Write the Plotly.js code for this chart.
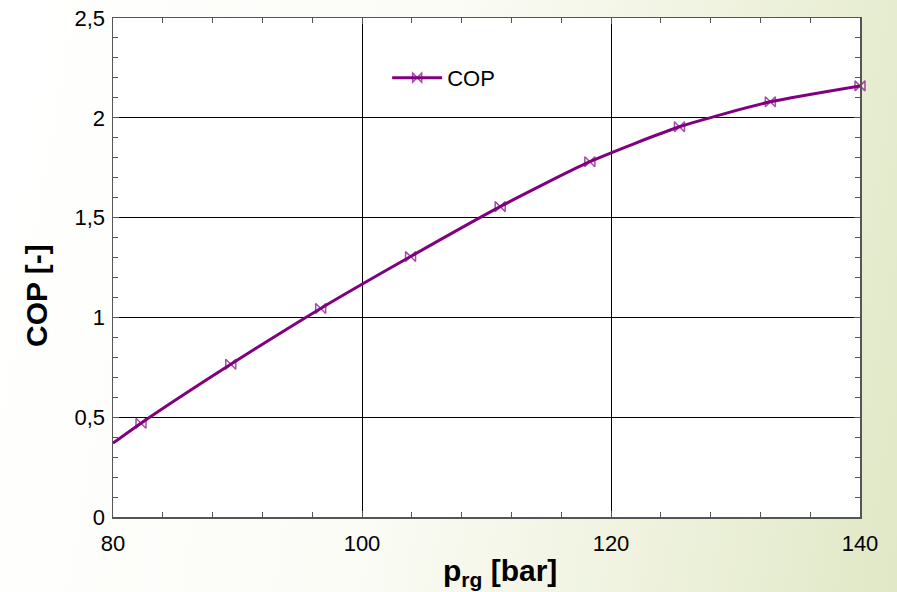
<!DOCTYPE html>
<html><head><meta charset="utf-8">
<script src="https://cdn.plot.ly/plotly-3.0.1.min.js"></script>
<style>
html,body{margin:0;padding:0;}
body{width:897px;height:592px;background:linear-gradient(100deg,#ffffff 0%,#fbfcf6 45%,#eef2dd 75%,#e0e8c6 100%);}
#chart{width:897px;height:592px;}
</style></head>
<body><div id="chart"></div>
<script>
const curveX = [80, 82.25, 89.46, 96.68, 103.9, 111.1, 118.3, 125.5, 132.8, 140];
const curveY = [0.37, 0.47, 0.765, 1.045, 1.305, 1.555, 1.78, 1.955, 2.08, 2.16];
const markerSizes = [0, 10, 10, 10, 10, 10, 10, 10, 10, 10];
const seriesName = 'COP';
const xTicks = [80, 100, 120, 140];
const yTicks = [0, 0.5, 1, 1.5, 2, 2.5];
const yTickText = ['0', '0,5', '1', '1,5', '2', '2,5'];
const xTitle = '<b>p<sub>rg</sub> [bar]</b>';
const yTitle = '<b>COP [-]</b>';

const purple = '#800080';
const font = 'Liberation Sans, Arial, sans-serif';
const data = [{
  x: curveX, y: curveY, name: seriesName, type: 'scatter', mode: 'lines+markers',
  line: {color: purple, width: 3, shape: 'spline', smoothing: 0.6},
  marker: {symbol: 'bowtie-open', size: markerSizes, color: purple, line: {color: purple, width: 1.5}},
  cliponaxis: false
}];
const axisCommon = {
  showline: true, linecolor: '#555', linewidth: 1.5, mirror: 'ticks',
  ticks: 'inside', ticklen: 6, tickcolor: '#555',
  showgrid: true, gridcolor: '#000', gridwidth: 1, zeroline: false,
  tickfont: {family: font, size: 22, color: '#000'}
};
const layout = {
  width: 897, height: 592,
  paper_bgcolor: 'rgba(0,0,0,0)', plot_bgcolor: '#ffffff',
  separators: ', ',
  margin: {l: 113, r: 37, t: 18, b: 75},
  showlegend: true,
  legend: {x: 0.367, y: 0.88, xanchor: 'left', yanchor: 'middle', bgcolor: 'rgba(0,0,0,0)',
    itemwidth: 50,
    font: {family: font, size: 22, color: '#000'}},
  xaxis: Object.assign({}, axisCommon, {
    range: [80, 140], tickvals: xTicks, ticktext: xTicks.map(String),
    ticklabelstandoff: 6,
    minor: {dtick: 4, tick0: 80, ticks: 'inside', ticklen: 5, tickcolor: '#555', showgrid: false}
  }),
  yaxis: Object.assign({}, axisCommon, {
    range: [0, 2.5], tickvals: yTicks, ticktext: yTickText,
    ticklabelstandoff: 2,
    minor: {dtick: 0.1, tick0: 0, ticks: 'inside', ticklen: 5, tickcolor: '#555', showgrid: false}
  }),
  annotations: [
    {text: xTitle, xref: 'paper', yref: 'paper', x: 0.518, y: -0.112, xanchor: 'center', yanchor: 'middle',
     showarrow: false, font: {family: font, size: 30, color: '#000'}},
    {text: yTitle, xref: 'paper', yref: 'paper', x: -0.1017, y: 0.443, xanchor: 'center', yanchor: 'middle',
     textangle: -90, showarrow: false, font: {family: font, size: 30, color: '#000'}}
  ]
};
Plotly.newPlot('chart', data, layout, {displayModeBar: false, staticPlot: true});
</script></body></html>
